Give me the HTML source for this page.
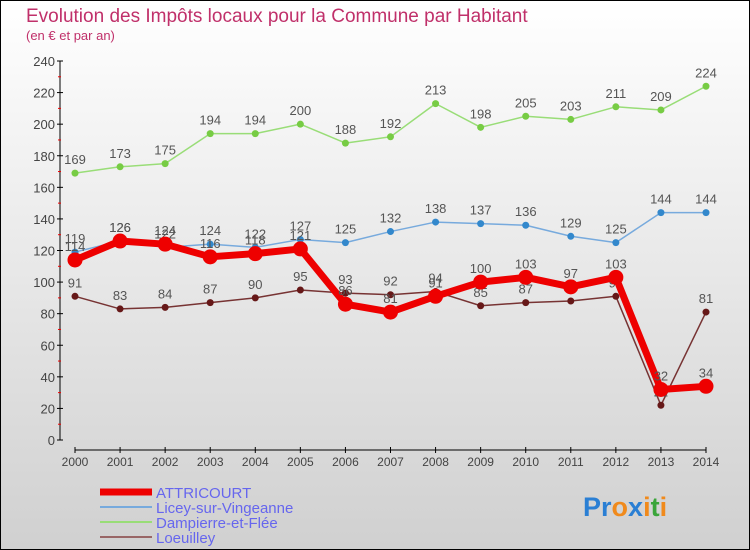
<!DOCTYPE html>
<html><head><meta charset="utf-8"><style>
body{margin:0;}
#c{width:750px;height:550px;position:relative;overflow:hidden;font-family:"Liberation Sans",sans-serif;}
svg text{font-family:"Liberation Sans",sans-serif;}
</style></head><body>
<div id="c">
<svg id="s" width="750" height="550" xmlns="http://www.w3.org/2000/svg">
<defs><linearGradient id="bg" x1="0" y1="0" x2="0" y2="1"><stop offset="0" stop-color="#ffffff"/><stop offset="1" stop-color="#d0d0d0"/></linearGradient></defs>
<rect x="0.5" y="0.5" width="749" height="549" fill="url(#bg)" stroke="#000"/>
<text x="26" y="22" font-size="19" fill="#c0306a">Evolution des Impôts locaux pour la Commune par Habitant</text>
<text x="26" y="40" font-size="13" fill="#c0306a">(en € et par an)</text>
<g id="axes"></g>
<g id="series"></g>
<g id="legend"></g>
<text x="583" y="516" font-size="27" font-weight="bold"><tspan fill="#2a7fd4">Pr</tspan><tspan fill="#f08a1c">o</tspan><tspan fill="#2a7fd4">x</tspan><tspan fill="#f08a1c">i</tspan><tspan fill="#3aa53a">t</tspan><tspan fill="#f08a1c">i</tspan></text>
</svg>
</div>
<script>
const years=[2000,2001,2002,2003,2004,2005,2006,2007,2008,2009,2010,2011,2012,2013,2014];
const attricourt=[114,126,124,116,118,121,86,81,91,100,103,97,103,32,34];
const licey=[119,126,122,124,122,127,125,132,138,137,136,129,125,144,144];
const dampierre=[169,173,175,194,194,200,188,192,213,198,205,203,211,209,224];
const loeuilley=[91,83,84,87,90,95,93,92,94,85,87,88,91,22,81];
const yTicks=[0,20,40,60,80,100,120,140,160,180,200,220,240];
const NS="http://www.w3.org/2000/svg";
const X=i=>75+i*(706-75)/14;
const Y=v=>440-v*(440-61)/240;
function mk(t,a,p){const e=document.createElementNS(NS,t);for(const k in a)e.setAttribute(k,a[k]);p.appendChild(e);return e;}
const ax=document.getElementById('axes');
let yl=mk('line',{x1:60,y1:Y(240),x2:60,y2:Y(0),stroke:'#000'},ax);


yTicks.forEach(v=>{
 let t=mk('line',{x1:57,x2:63,y1:Y(v),y2:Y(v),stroke:'#000'},ax);
 
 
 let l=mk('text',{x:55,y:Y(v)+5,'font-size':13,fill:'#444','text-anchor':'end'},ax);l.textContent=v;
 
 
 if(v<240){let m=mk('line',{x1:58,x2:61,y1:Y(v+10),y2:Y(v+10),stroke:'#e00'},ax);
 
 }
});
let xl=mk('line',{x1:75,y1:450,x2:706,y2:450,stroke:'#000'},ax);


years.forEach((y,i)=>{
 let t=mk('line',{x1:X(i),x2:X(i),y1:447,y2:453,stroke:'#000'},ax);
 
 
 let l=mk('text',{x:X(i),y:466,'font-size':12,fill:'#444','text-anchor':'middle'},ax);l.textContent=y;
 
 
});
const sg=document.getElementById('series');
function draw(name,vals,color,w,r,dot){
 const g=mk('g',{},sg);
 
 
 let p=mk('polyline',{points:vals.map((v,i)=>X(i)+','+Y(v)).join(' '),fill:'none',stroke:color,'stroke-width':w,'stroke-linejoin':'round'},g);
 
 
 vals.forEach((v,i)=>{
  let c=mk('circle',{cx:X(i),cy:Y(v),r:r,fill:dot},g);
  
  
  let t=mk('text',{x:X(i),y:Y(v)-9,'font-size':13,fill:'#555','text-anchor':'middle'},g);t.textContent=v;
  
  
 });
}
draw('dampierre',dampierre,'#99dd77',1.5,3.5,'#77cc44');
draw('licey',licey,'#77aadd',1.5,3.5,'#3388cc');
draw('loeuilley',loeuilley,'#773333',1.5,3.5,'#661818');
draw('attricourt',attricourt,'#ee0000',7,7.5,'#ee0000');
const lg=document.getElementById('legend');
[['ATTRICOURT','#ee0000',7],['Licey-sur-Vingeanne','#77aadd',2],['Dampierre-et-Flée','#99dd77',2],['Loeuilley','#996666',2]].forEach((e,i)=>{
 const y=492+i*15;
 let l=mk('line',{x1:100,x2:152,y1:y,y2:y,stroke:e[1],'stroke-width':e[2]},lg);
 
 
 let t=mk('text',{x:156,y:y+6,'font-size':15,fill:'#6666ee'},lg);t.textContent=e[0];
 
 
});
</script>
</body></html>
